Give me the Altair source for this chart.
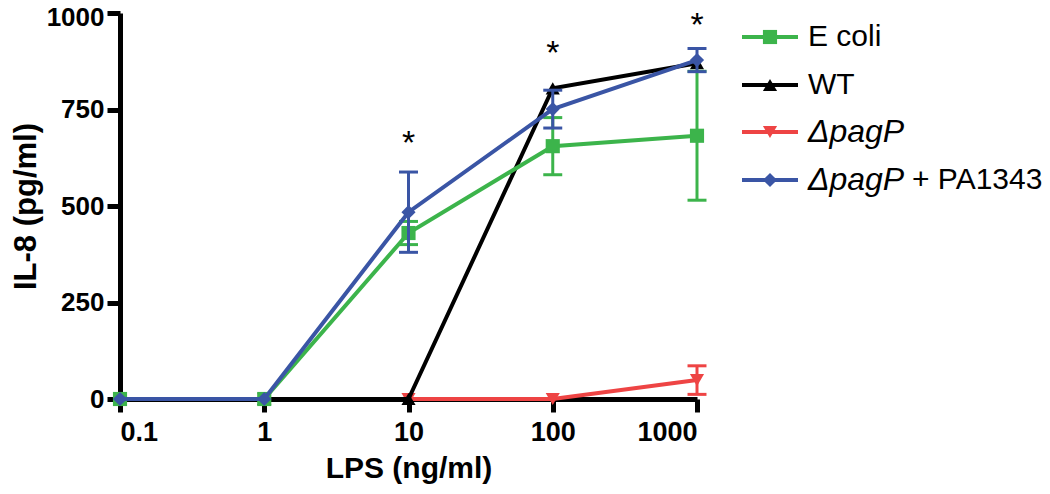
import altair as alt
import pandas as pd

# ---- data ----
doses = [0.1, 1, 10, 100, 1000]
series_names = ["E coli", "WT", "ΔpagP", "ΔpagP + PA1343"]
series_colors = ["#3cb44b", "#000000", "#ee4444", "#3a55a5"]
series_shapes = ["square", "triangle-up", "triangle-down", "diamond"]

ecoli_mean = [0, 0, 430, 655, 682]
ecoli_err = [0, 0, 30, 74, 167]
wt_mean = [0, 0, 0, 805, 870]
wt_err = [0, 0, 0, 0, 0]
pagp_mean = [0, 0, 0, 0, 49]
pagp_err = [0, 0, 0, 0, 37]
comp_mean = [0, 0, 484, 751, 878]
comp_err = [0, 0, 104, 49, 30]

star_dose = [10, 100, 1000]
star_level = [705, 938, 1010]

means = [ecoli_mean, wt_mean, pagp_mean, comp_mean]
errs = [ecoli_err, wt_err, pagp_err, comp_err]

FONT = "Liberation Sans"
W, H = 577, 386

rows = []
for name, m, e in zip(series_names, means, errs):
    for d, v, s in zip(doses, m, e):
        rows.append({"series": name, "dose": d, "il8": v, "err": s,
                     "lo": v - s, "hi": v + s})
df = pd.DataFrame(rows)

color = alt.Color("series:N", scale=alt.Scale(domain=series_names, range=series_colors), legend=None)
shape = alt.Shape("series:N", scale=alt.Scale(domain=series_names, range=series_shapes), legend=None)

xenc = alt.X("dose:Q", scale=alt.Scale(type="log", domain=[0.1, 1000]),
             axis=alt.Axis(values=doses, labelExpr="'' + datum.value", title="LPS (ng/ml)",
                           labelFontSize=27, titleFontSize=30, titlePadding=8, labelPadding=7))
yenc = alt.Y("il8:Q", scale=alt.Scale(domain=[0, 1000]),
             axis=alt.Axis(values=[0, 250, 500, 750, 1000], labelExpr="'' + datum.value",
                           title="IL-8 (pg/ml)", labelFontSize=26, titleFontSize=31,
                           titlePadding=4, labelPadding=3,
                           labelOffset={"condition": {"test": "datum.value == 1000", "value": 4},
                                        "value": 0}))

layers = []
draw_order = ["ΔpagP", "WT", "E coli", "ΔpagP + PA1343"]
for name in draw_order:
    sub = df[df.series == name]
    base = alt.Chart(sub)
    line = base.mark_line(strokeWidth=4, clip=False).encode(x=xenc, y=yenc, color=color)
    eb = sub[sub.err > 0]
    parts = [line]
    if len(eb):
        ebase = alt.Chart(eb)
        rule = ebase.mark_rule(strokeWidth=3, clip=False).encode(
            x="dose:Q", y="lo:Q", y2="hi:Q", color=color)
        cap_lo = ebase.mark_point(shape="M-1,0L1,0", size=360, strokeWidth=3, filled=False,
                                  opacity=1, clip=False).encode(x="dose:Q", y="lo:Q", color=color)
        cap_hi = ebase.mark_point(shape="M-1,0L1,0", size=360, strokeWidth=3, filled=False,
                                  opacity=1, clip=False).encode(x="dose:Q", y="hi:Q", color=color)
        parts += [rule, cap_lo, cap_hi]
    pts = base.mark_point(filled=True, opacity=1, size=200, clip=False).encode(
        x="dose:Q", y="il8:Q", color=color, shape=shape)
    parts.append(pts)
    layers += parts

stars_df = pd.DataFrame({"dose": star_dose, "il8": star_level, "t": ["*"] * 3})
stars = alt.Chart(stars_df).mark_text(fontSize=34, font=FONT, baseline="top", align="center",
                                      clip=False).encode(x="dose:Q", y="il8:Q", text="t:N")
layers.append(stars)

# ---- custom legend (italic ΔpagP) ----
leg_rows = [24, 72, 119, 167]
LFS = 30
for i, name in enumerate(series_names):
    ldf = pd.DataFrame({"series": [name]})
    lb = alt.Chart(ldf)
    yy = leg_rows[i]
    layers.append(lb.mark_rule(strokeWidth=4).encode(
        x=alt.value(622), x2=alt.value(678), y=alt.value(yy), color=color))
    layers.append(lb.mark_point(filled=True, opacity=1, size=200).encode(
        x=alt.value(650), y=alt.value(yy), color=color, shape=shape))
    if name.startswith("Δ"):
        parts = name.split(" ", 1)
        layers.append(lb.mark_text(text=parts[0], fontSize=32, font=FONT, fontStyle="italic",
                                   align="left", baseline="middle").encode(
            x=alt.value(688), y=alt.value(yy)))
        if len(parts) > 1:
            layers.append(lb.mark_text(text=parts[1], fontSize=LFS, font=FONT,
                                       align="left", baseline="middle", dx=104).encode(
                x=alt.value(688), y=alt.value(yy)))
    else:
        layers.append(lb.mark_text(fontSize=LFS, font=FONT, align="left", baseline="middle").encode(
            x=alt.value(688), y=alt.value(yy), text="series:N"))

chart = alt.layer(*layers).properties(
    width=W, height=H,
    autosize=alt.AutoSizeParams(type="none"),
    padding={"left": 112, "top": 5, "right": 345, "bottom": 87},
).configure_view(stroke=None).configure_axis(
    grid=False, domainColor="black", domainWidth=5, tickColor="black", tickWidth=5,
    tickSize=13, labelFont=FONT, labelFontWeight="bold", labelColor="black",
    titleFont=FONT, titleFontWeight="bold", titleColor="black",
).configure_axisY(labelFlush=False)

chart.save("out.html", embed_options={"renderer": "svg", "actions": False})
